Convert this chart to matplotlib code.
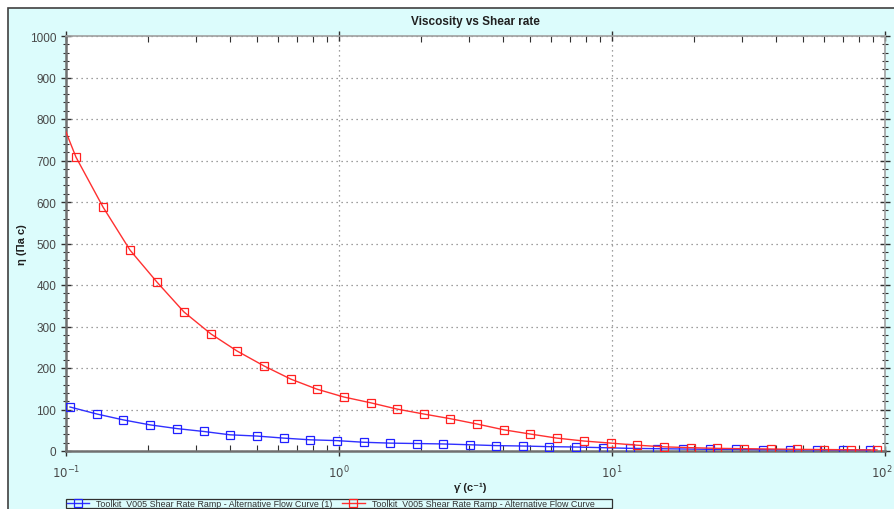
#!/usr/bin/env python3
# coding: utf-8
"""
Viscosity vs shear rate (flow curves, log x-axis)
"""
import matplotlib
matplotlib.use("Agg")
import matplotlib.pyplot as plt
import matplotlib.ticker as mticker
import matplotlib.transforms as mtransforms
from matplotlib.patches import Rectangle

# ============================================================
# DATA
# ============================================================
# shear rate, 1/s
rate_blue = [0.1034, 0.130, 0.162, 0.203, 0.255, 0.320, 0.399, 0.501, 0.629, 0.783,
             0.983, 1.235, 1.538, 1.93, 2.40, 3.02, 3.76, 4.72, 5.88, 7.38,
             9.27, 11.6, 14.6, 18.2, 22.9, 28.5, 35.7, 44.9, 56.4, 70.2, 88.1]
visc_blue = [106, 89, 75, 63, 54, 47, 39, 36, 31, 27,
             25, 21, 19, 18, 17, 15, 13, 12, 10.5, 9.6,
             8, 6.4, 5.6, 4.8, 4, 4, 3.2, 3.0, 2.8, 2.5, 2.3]

rate_red = [0.0868, 0.1088, 0.1366, 0.1716, 0.2154, 0.2705, 0.3397, 0.4231, 0.5312, 0.667, 0.8305,
            1.043, 1.31, 1.632, 2.049, 2.551, 3.203, 4.022, 5.008, 6.288, 7.897,
            9.915, 12.35, 15.51, 19.47, 24.25, 30.45, 38.23, 47.62, 59.79, 75.08, 93.5]
visc_red = [870, 708, 588, 484, 407, 335, 282, 241, 205, 173, 149,
            130, 116, 101, 89, 78, 65, 51, 41, 31, 24,
            19, 14, 10, 8, 6.4, 5.6, 4.8, 4, 3.5, 3, 2.5]

LABEL_BLUE = "Toolkit_V005 Shear Rate Ramp - Alternative Flow Curve (1)"
LABEL_RED = "Toolkit_V005 Shear Rate Ramp - Alternative Flow Curve"

X_TICKS = [0.1, 1, 10, 100]
X_TICK_LABELS = [r"$10^{-1}$", r"$10^{0}$", r"$10^{1}$", r"$10^{2}$"]
Y_TICKS = list(range(0, 1001, 100))

BG = "#dcfcfc"
FONT = ["Liberation Sans", "DejaVu Sans"]
plt.rcParams["font.family"] = FONT

# ============================================================
# FIGURE
# ============================================================
W, H = 894, 510
fig = plt.figure(figsize=(W / 100, H / 100), dpi=100)
fig.patch.set_facecolor("white")
fig.patches.append(Rectangle((8 / W, -0.05), 1.0, 1 - 9 / H + 0.05,
                             transform=fig.transFigure, facecolor=BG,
                             edgecolor="#404040", linewidth=1.2, zorder=-10))
# legend box
fig.patches.append(Rectangle((66 / W, 1 - 509 / H), (612 - 66) / W, 9.5 / H,
                             transform=fig.transFigure, facecolor=BG,
                             edgecolor="#303030", linewidth=0.9, zorder=-5))

ax = fig.add_axes([66 / W, 1 - 452 / H, (885 - 66) / W, (452 - 37) / H])
ax.set_zorder(5)
ax.set_facecolor("white")

ax.plot(rate_blue, visc_blue, color="#3030ff", lw=1.0, marker="s", ms=5.5,
        mfc="none", mec="#2020ff", mew=0.9, label=LABEL_BLUE, zorder=3)
ax.plot(rate_red, visc_red, color="#ff3030", lw=1.0, marker="s", ms=5.5,
        mfc="none", mec="#ff2020", mew=0.9, label=LABEL_RED, zorder=4)

ax.set_xscale("log")
ax.set_xlim(0.1, 100)
ax.set_ylim(0, 1000)

ax.set_xticks(X_TICKS)
ax.set_xticklabels(X_TICK_LABELS)
ax.xaxis.set_minor_locator(mticker.LogLocator(base=10, subs=range(2, 10)))
ax.xaxis.set_minor_formatter(mticker.NullFormatter())
ax.set_yticks(Y_TICKS)
ax.yaxis.set_minor_locator(mticker.MultipleLocator(20))

ax.tick_params(axis="both", which="both", colors="#303030", labelcolor="#484848",
               labelsize=8.5, top=True, right=True)
ax.tick_params(axis="y", which="major", direction="inout", length=7, width=1.0)
ax.tick_params(axis="y", which="minor", direction="inout", length=4, width=0.8)
ax.tick_params(axis="x", which="major", direction="inout", length=7, width=1.0, pad=6)
ax.tick_params(axis="x", which="minor", direction="in", length=4, width=0.8)

# keep the last x label inside the figure
last = ax.get_xticklabels()[-1]
last.set_transform(last.get_transform() +
                   mtransforms.ScaledTranslation(-3 / 100, 0, fig.dpi_scale_trans))

ax.grid(True, which="major", color="#808080", linestyle=(0, (1, 3)), linewidth=0.9)

for side in ("left", "bottom"):
    ax.spines[side].set_color("#707070")
    ax.spines[side].set_linewidth(1.8)
for side in ("top", "right"):
    ax.spines[side].set_color("#a0a0a0")
    ax.spines[side].set_linewidth(1.2)

fig.text((66 + 885) / 2 / W, 1 - 22 / H, "Viscosity vs Shear rate",
         ha="center", va="center", fontsize=8.5, fontweight="bold", color="#202020")
fig.text(22 / W, 1 - 245 / H, "η (Па с)", rotation=90, ha="center", va="center",
         fontsize=8, fontweight="bold", color="#202020")
fig.text(470 / W, 1 - 488 / H, "γ̇ (c⁻¹)", ha="center", va="center",
         fontsize=8, fontweight="bold", color="#202020")

leg = fig.legend(loc="center left", bbox_to_anchor=(66 / W, 1 - 504.5 / H), ncol=2,
                 fontsize=6.4, frameon=False, borderpad=0.1, handlelength=2.5,
                 handletextpad=0.8, columnspacing=1.1, borderaxespad=0.0)
for t in leg.get_texts():
    t.set_color("#303030")

fig.savefig("out.png", dpi=100)
